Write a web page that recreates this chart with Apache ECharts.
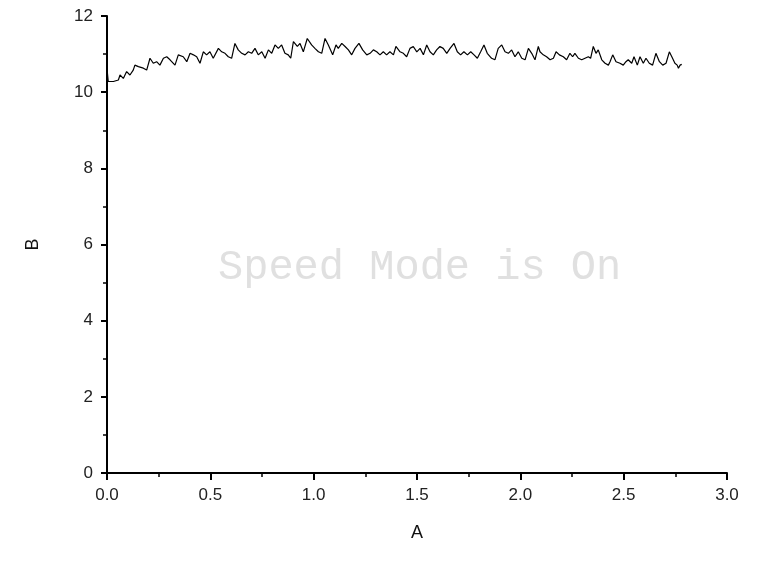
<!DOCTYPE html>
<html>
<head>
<meta charset="utf-8">
<script src="https://cdn.jsdelivr.net/npm/echarts@6/dist/echarts.min.js"></script>
<style>
  html, body { margin: 0; padding: 0; background: #fff; }
  #chart { width: 779px; height: 568px; }
</style>
</head>
<body>
<div id="chart"></div>
<script>
// x 值 (A)
const xs = [
  0, 0.002, 0.006, 0.031, 0.055, 0.063, 0.079, 0.095, 0.111, 0.127, 0.135, 0.152, 0.176, 0.192,
  0.208, 0.224, 0.240, 0.256, 0.273, 0.289, 0.305, 0.329, 0.345, 0.369, 0.386, 0.402, 0.418,
  0.434, 0.450, 0.466, 0.482, 0.498,
  0.514, 0.539, 0.555, 0.571, 0.587, 0.603, 0.619, 0.635, 0.652, 0.668, 0.684, 0.700, 0.716,
  0.732, 0.749, 0.765, 0.781, 0.797, 0.813, 0.829, 0.845, 0.861, 0.877, 0.889, 0.902, 0.921,
  0.934, 0.950, 0.969, 0.990, 1.006, 1.023,
  1.039, 1.055, 1.071, 1.092, 1.108, 1.119, 1.136, 1.152, 1.168, 1.184, 1.200, 1.219, 1.237,
  1.257, 1.273, 1.289, 1.305, 1.321, 1.337, 1.353, 1.369, 1.386, 1.398, 1.418, 1.434, 1.450,
  1.466, 1.482, 1.499, 1.515, 1.531, 1.547, 1.563, 1.579, 1.595,
  1.611, 1.627, 1.644, 1.660, 1.679, 1.695, 1.711, 1.727, 1.744, 1.760, 1.776, 1.792, 1.808,
  1.824, 1.840, 1.861, 1.877, 1.893, 1.910, 1.926, 1.942, 1.958, 1.974, 1.990, 2.007, 2.023,
  2.039, 2.055, 2.071, 2.087,
  2.095, 2.111, 2.127, 2.144, 2.160, 2.173, 2.189, 2.208, 2.224, 2.240, 2.253, 2.264, 2.281,
  2.297, 2.313, 2.329, 2.340, 2.353, 2.366, 2.377, 2.394, 2.410, 2.426, 2.434, 2.447, 2.463,
  2.482, 2.498, 2.511, 2.522, 2.539, 2.550, 2.566, 2.579, 2.595, 2.608, 2.624, 2.640, 2.656,
  2.673, 2.689, 2.705, 2.721, 2.733, 2.748, 2.759, 2.765, 2.773, 2.781
];

// y 值 (B)
const ys = [
  10.00, 10.50, 10.28, 10.28, 10.32, 10.45, 10.36, 10.54, 10.45, 10.58, 10.71, 10.67, 10.63, 10.58,
  10.89, 10.76, 10.80, 10.71, 10.89, 10.93, 10.85, 10.71, 10.98, 10.93, 10.80, 11.02, 10.98,
  10.93, 10.76, 11.06, 10.98, 11.06,
  10.89, 11.15, 11.06, 11.02, 10.93, 10.89, 11.28, 11.11, 11.02, 10.98, 11.06, 11.02, 11.15,
  10.98, 11.06, 10.89, 11.11, 11.02, 11.24, 11.15, 11.24, 11.02, 10.98, 10.89, 11.33, 11.20,
  11.28, 11.06, 11.41, 11.24, 11.15, 11.06,
  11.02, 11.41, 11.24, 10.98, 11.24, 11.15, 11.28, 11.20, 11.11, 10.98, 11.15, 11.28, 11.11,
  10.98, 11.02, 11.11, 11.06, 10.98, 11.06, 10.98, 11.06, 10.98, 11.20, 11.06, 11.02, 10.93,
  11.15, 11.20, 11.06, 11.15, 10.98, 11.24, 11.06, 10.98, 11.11,
  11.20, 11.15, 11.02, 11.15, 11.28, 11.06, 10.98, 11.06, 10.98, 11.06, 10.98, 10.89, 11.06,
  11.24, 11.02, 10.89, 10.85, 11.15, 11.24, 11.06, 11.02, 11.11, 10.93, 11.06, 10.89, 10.85,
  11.15, 11.02, 10.85, 11.20,
  11.06, 10.98, 10.93, 10.85, 10.89, 11.06, 10.98, 10.93, 10.85, 11.02, 10.93, 11.02, 10.89,
  10.85, 10.89, 10.93, 10.89, 11.20, 11.02, 11.11, 10.85, 10.76, 10.71, 10.80, 10.98, 10.80,
  10.76, 10.71, 10.80, 10.85, 10.76, 10.93, 10.71, 10.93, 10.76, 10.89, 10.76, 10.71, 11.02,
  10.80, 10.71, 10.76, 11.06, 10.93, 10.76, 10.71, 10.63, 10.71, 10.73
];

const xTicks = ['0.0', '0.5', '1.0', '1.5', '2.0', '2.5', '3.0'];

const chart = echarts.init(document.getElementById('chart'));

const axisFont = { color: '#222', fontSize: 17, fontFamily: 'Liberation Sans, Arial, sans-serif' };

const options = {
  animation: false,
  grid: {
    left: 107,
    right: 52,
    top: 16,
    bottom: 95
  },
  xAxis: {
    type: 'value',
    min: 0,
    max: 3,
    interval: 0.5,
    name: 'A',
    nameLocation: 'middle',
    nameGap: 51,
    nameTextStyle: { color: '#111', fontSize: 18, fontFamily: 'Liberation Sans, Arial, sans-serif' },
    splitLine: { show: false },
    axisLine: { onZero: false, lineStyle: { color: '#000', width: 2 } },
    axisTick: { length: 7, lineStyle: { color: '#000', width: 2 } },
    minorTick: { show: true, splitNumber: 2, length: 4, lineStyle: { color: '#000', width: 1.5 } },
    axisLabel: {
      ...axisFont,
      margin: 14,
      formatter: v => xTicks[Math.round(v / 0.5)]
    }
  },
  yAxis: {
    type: 'value',
    min: 0,
    max: 12,
    interval: 2,
    name: 'B',
    nameLocation: 'middle',
    nameGap: 65,
    nameTextStyle: { color: '#111', fontSize: 18, fontFamily: 'Liberation Sans, Arial, sans-serif' },
    splitLine: { show: false },
    axisLine: { show: true, onZero: false, lineStyle: { color: '#000', width: 2 } },
    axisTick: { show: true, length: 6, lineStyle: { color: '#000', width: 2 } },
    minorTick: { show: true, splitNumber: 2, length: 4, lineStyle: { color: '#000', width: 1.5 } },
    axisLabel: { ...axisFont, margin: 14 }
  },
  graphic: [{
    type: 'text',
    left: 218,
    top: 247,
    z: -1,
    style: {
      text: 'Speed Mode is On',
      fill: '#e0e0e0',
      font: '42px "Liberation Mono", "DejaVu Sans Mono", monospace'
    }
  }],
  series: [{
    name: 'B',
    type: 'line',
    data: xs.map((x, i) => [x, ys[i]]),
    showSymbol: false,
    symbol: 'none',
    lineStyle: { color: '#000', width: 1.2 }
  }]
}
chart.setOption(options)

window.addEventListener('resize', () => {
  chart?.resize()
})
</script>
</body>
</html>
